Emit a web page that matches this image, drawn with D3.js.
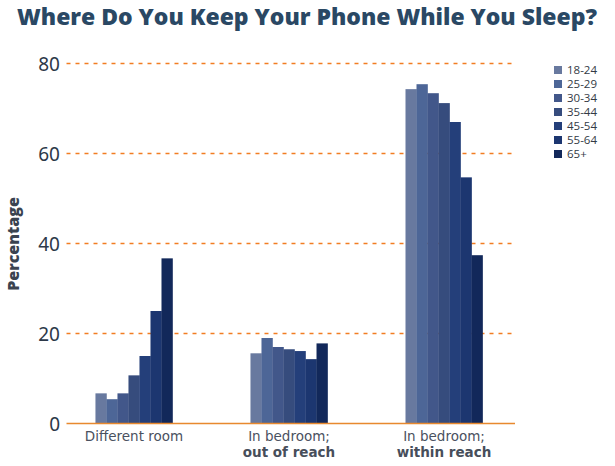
<!DOCTYPE html>
<html><head><meta charset="utf-8">
<script src="https://cdn.jsdelivr.net/npm/d3@7"></script>
<style>body{margin:0;background:#fff}svg{display:block}</style>
</head><body>
<script>
const categories = ["Different room", "In bedroom; out of reach", "In bedroom; within reach"];
const labelLine1 = ["Different room", "In bedroom;", "In bedroom;"];
const labelLine2 = ["", "out of reach", "within reach"];
const ageGroups = ["18-24", "25-29", "30-34", "35-44", "45-54", "55-64", "65+"];
const differentRoom = [6.7, 5.4, 6.7, 10.7, 15.0, 25.0, 36.7];
const outOfReach = [15.6, 19.0, 17.0, 16.5, 16.1, 14.3, 17.8];
const withinReach = [74.3, 75.4, 73.4, 71.2, 67.0, 54.7, 37.4];
const yTicks = [0, 20, 40, 60, 80];
const colors = ["#68799f", "#4d6697", "#42578a", "#364c7d", "#243f7a", "#1c3670", "#12285a"];

const seriesByCat = [differentRoom, outOfReach, withinReach];
const W = 615, H = 466;
const svg = d3.select("body").append("svg").attr("width", W).attr("height", H);

const left = 66.5, right = 515, y0px = 423.5, y80px = 63.5;
const y = d3.scaleLinear().domain([0, 80]).range([y0px, y80px]);
const x = d3.scaleBand().domain(categories).range([66, 512]).paddingInner(0.503).paddingOuter(0.19);
const xi = d3.scaleBand().domain(ageGroups).range([0, x.bandwidth()]).padding(0);

// title
svg.append("text").attr("x", 307).attr("y", 25).attr("text-anchor", "middle")
  .attr("font-family", "Open Sans").attr("font-weight", 800).attr("font-size", 23)
  .attr("fill", "#2a4864").attr("textLength", 580).attr("lengthAdjust", "spacingAndGlyphs")
  .text("Where Do You Keep Your Phone While You Sleep?");

// gridlines
svg.append("g").selectAll("line").data(yTicks.filter(d => d > 0)).join("line")
  .attr("x1", left).attr("x2", right).attr("y1", d => y(d)).attr("y2", d => y(d))
  .attr("stroke", "#f27d22").attr("stroke-width", 1.5).attr("stroke-dasharray", "4,5");

// y axis labels
const yAxis = d3.axisLeft(y).tickValues(yTicks).tickSize(0).tickPadding(0);
const gy = svg.append("g").attr("transform", `translate(60,0)`).call(yAxis);
gy.select(".domain").remove();
gy.selectAll("text").attr("font-family", "Noto Sans").attr("font-size", 19).attr("fill", "#2c3848").attr("dy", "0.35em");

svg.append("text").attr("transform", "translate(19,244) rotate(-90)").attr("text-anchor", "middle")
  .attr("font-family", "Open Sans").attr("font-weight", 800).attr("font-size", 16).attr("fill", "#3a4350")
  .text("Percentage");

// bars
const groups = svg.append("g").selectAll("g").data(categories).join("g")
  .attr("transform", d => `translate(${x(d)},0)`);
groups.selectAll("rect").data((c, i) => seriesByCat[i].map((v, j) => ({age: ageGroups[j], v, j})))
  .join("rect")
  .attr("x", d => xi(d.age)).attr("width", xi.bandwidth() + 0.3)
  .attr("y", d => y(d.v)).attr("height", d => y(0) - y(d.v))
  .attr("fill", d => colors[d.j]);

// x axis line
svg.append("line").attr("x1", left).attr("x2", right).attr("y1", y0px).attr("y2", y0px)
  .attr("stroke", "#e8892e").attr("stroke-width", 1.5);

// x labels
categories.forEach((c, i) => {
  const cx = x(c) + x.bandwidth() / 2;
  svg.append("text").attr("x", cx).attr("y", 441).attr("text-anchor", "middle")
    .attr("font-family", "DejaVu Sans").attr("font-size", 13.5).attr("fill", "#4a5160").text(labelLine1[i]);
  if (labelLine2[i]) svg.append("text").attr("x", cx).attr("y", 457).attr("text-anchor", "middle")
    .attr("font-family", "DejaVu Sans").attr("font-weight", "bold").attr("font-size", 13.5).attr("fill", "#474e5a").text(labelLine2[i]);
});

// legend
const lg = svg.append("g").selectAll("g").data(ageGroups).join("g")
  .attr("transform", (d, i) => `translate(554,${70 + i * 14})`);
lg.append("rect").attr("x", 0).attr("y", -4).attr("width", 8).attr("height", 8).attr("fill", (d, i) => colors[i]);
lg.append("text").attr("x", 13).attr("y", 0).attr("dy", "0.35em").attr("font-family", "Open Sans")
  .attr("font-size", 11.5).attr("fill", "#333a45").text(d => d);
</script>
</body></html>
